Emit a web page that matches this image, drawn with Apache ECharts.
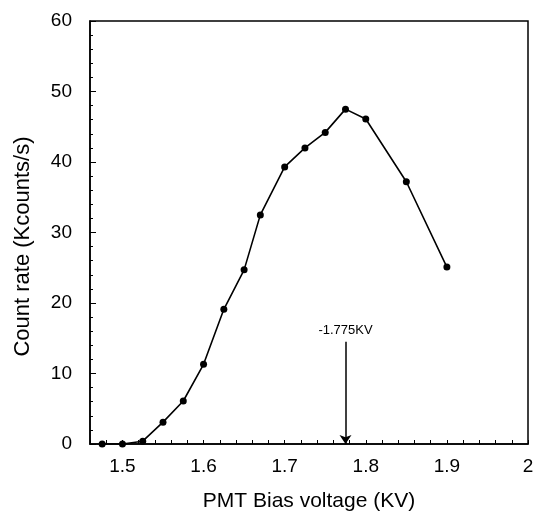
<!DOCTYPE html>
<html>
<head>
<meta charset="utf-8">
<script src="https://cdn.jsdelivr.net/npm/echarts@6/dist/echarts.min.js"></script>
<style>
html,body{margin:0;padding:0;background:#fff;}
#chart{width:537px;height:520px;}
</style>
</head>
<body>
<div id="chart"></div>
<script>
const voltage = [1.475, 1.5, 1.525, 1.55, 1.575, 1.6, 1.625, 1.65, 1.67, 1.7, 1.725, 1.75, 1.775, 1.8, 1.85, 1.9];
const countRate = [0, 0, 0.4, 3.1, 6.1, 11.3, 19.1, 24.7, 32.5, 39.3, 42.0, 44.2, 47.5, 46.1, 37.2, 25.1];
const xTickLabels = ['1.5', '1.6', '1.7', '1.8', '1.9', '2'];
const yTickLabels = ['0', '10', '20', '30', '40', '50', '60'];
const markerVoltage = 1.775;
const markerTop = 14.5;
const markerText = '-1.775KV';

const font = '"Liberation Sans", Arial, Helvetica, sans-serif';
const chart = echarts.init(document.getElementById('chart'));
chart.setOption({
  animation: false,
  backgroundColor: '#fff',
  grid: { left: 90, right: 9, top: 21, bottom: 76, show: true, borderColor: '#000', borderWidth: 1.5 },
  xAxis: {
    type: 'value', min: 1.46, max: 2.0, interval: 0.02,
    name: 'PMT Bias voltage (KV)', nameLocation: 'middle', nameGap: 47,
    nameTextStyle: { fontFamily: font, fontSize: 21, color: '#000' },
    axisLine: { lineStyle: { color: '#000', width: 1.5 } },
    axisTick: { inside: true, length: 4, lineStyle: { color: '#000' } },
    splitLine: { show: false },
    axisLabel: {
      margin: 13, fontFamily: font, fontSize: 19, color: '#000',
      formatter: function (v) {
        for (const t of xTickLabels) { if (Math.abs(Number(t) - v) < 1e-6) return t; }
        return '';
      }
    }
  },
  yAxis: {
    type: 'value', min: 0, max: 60, interval: 10,
    name: 'Count rate (Kcounts/s)', nameLocation: 'middle', nameGap: 56,
    nameTextStyle: { fontFamily: font, fontSize: 22, color: '#000', padding: [0, 28, 0, 0] },
    axisLine: { lineStyle: { color: '#000', width: 1.5 } },
    axisTick: { inside: true, length: 6, lineStyle: { color: '#000' } },
    minorTick: { show: true, splitNumber: 5, length: 3, lineStyle: { color: '#000' } },
    splitLine: { show: false },
    axisLabel: {
      margin: 18, fontFamily: font, fontSize: 19, color: '#000',
      formatter: function (v) {
        for (const t of yTickLabels) { if (Math.abs(Number(t) - v) < 1e-6) return t; }
        return '';
      }
    }
  },
  series: [{
    type: 'line',
    data: voltage.map((x, i) => [x, countRate[i]]),
    symbol: 'circle', symbolSize: 7,
    itemStyle: { color: '#000' },
    lineStyle: { color: '#000', width: 1.6 },
    markLine: {
      silent: true,
      symbol: ['none', 'arrow'], symbolSize: 9,
      lineStyle: { color: '#000', width: 1.5, type: 'solid' },
      label: { show: true, position: 'start', distance: 5, formatter: markerText, fontFamily: font, fontSize: 13, color: '#000' },
      data: [[{ coord: [markerVoltage, markerTop] }, { coord: [markerVoltage, 0] }]]
    }
  }]
});
</script>
</body>
</html>
